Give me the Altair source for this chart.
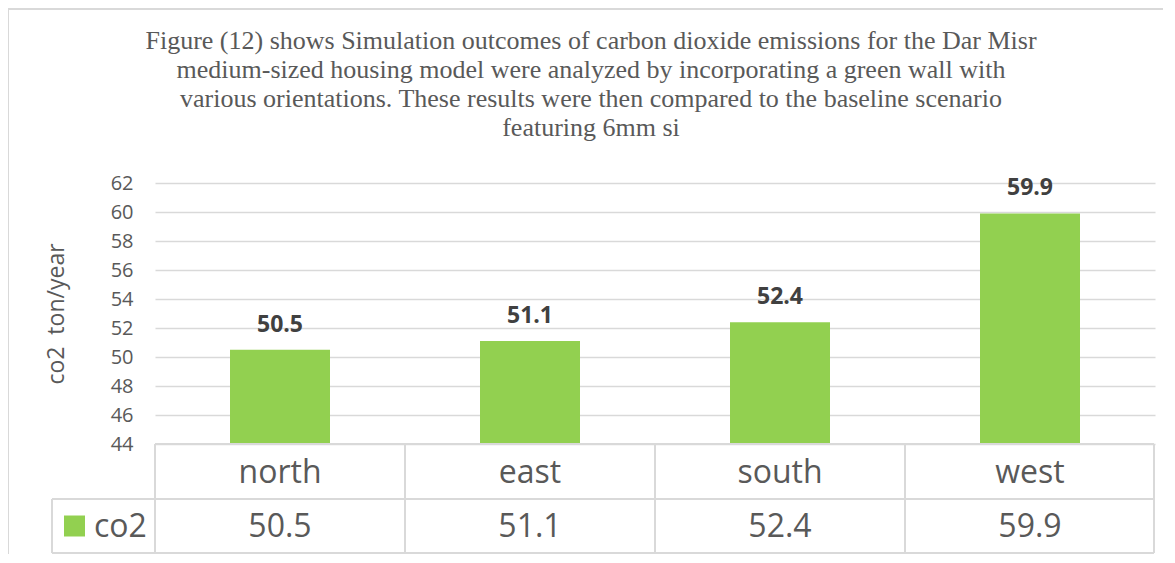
import altair as alt
import pandas as pd

# ---- data ----
categories = ["north", "east", "south", "west"]
co2_values = [50.5, 51.1, 52.4, 59.9]
value_labels = ["50.5", "51.1", "52.4", "59.9"]
series_name = ["co2"]
y_ticks = [44, 46, 48, 50, 52, 54, 56, 58, 60, 62]
title_lines = [
    "Figure (12) shows Simulation outcomes of carbon dioxide emissions for the Dar Misr",
    "medium-sized housing model were analyzed by incorporating a green wall with",
    "various orientations. These results were then compared to the baseline scenario",
    "featuring 6mm si",
]
y_title = "co2\u00a0 ton/year"

df = pd.DataFrame({"orientation": categories, "co2": co2_values, "label": value_labels})
legend_df = pd.DataFrame({"series": series_name})

W, H = 1000, 261
GREEN = "#92D050"
GRID = "#D9D9D9"
TXT = "#595959"
FONT = "Open Sans"

x_enc = alt.X("orientation:N", sort=categories, axis=None,
              scale=alt.Scale(paddingInner=0, paddingOuter=0))

y_enc = alt.Y(
    "co2:Q",
    scale=alt.Scale(domain=[44, 62], zero=False, nice=False),
    axis=alt.Axis(values=y_ticks, grid=True, gridColor=GRID, gridWidth=1.3,
                  domain=False, ticks=False, labelPadding=22, labelFontSize=20,
                  labelColor=TXT, labelFont=FONT, title=y_title, titleFontSize=23,
                  titleFont=FONT, titleFontWeight="normal", titleColor=TXT,
                  titlePadding=42),
)

base = alt.Chart(df)

frame = alt.Chart(legend_df).mark_rect(fill=None, stroke=GRID, strokeWidth=2).encode(
    x=alt.value(-147), y=alt.value(-174), x2=alt.value(1300), y2=alt.value(700))

bars = base.mark_bar(color=GREEN, size=100).encode(x=x_enc, y=y_enc, y2=alt.datum(44))

labels = base.mark_text(font=FONT, fontWeight="bold", fontSize=23, color="#404040",
                        baseline="alphabetic", dy=-18).encode(
    x=x_enc, y=y_enc, text="label:N")

cat_text = base.mark_text(font=FONT, fontSize=32, color=TXT, baseline="alphabetic").encode(
    x=x_enc, y=alt.value(300), text="orientation:N")
val_text = base.mark_text(font=FONT, fontSize=32, color=TXT, baseline="alphabetic").encode(
    x=x_enc, y=alt.value(354), text="label:N")

LW = 2
vlines = base.mark_rule(color=GRID, strokeWidth=LW).encode(
    x=alt.X("orientation:N", sort=categories, bandPosition=0, axis=None),
    y=alt.value(261), y2=alt.value(370))
right_line = alt.Chart(legend_df).mark_rule(color=GRID, strokeWidth=LW).encode(
    x=alt.value(999), y=alt.value(261), y2=alt.value(370))
left_line = alt.Chart(legend_df).mark_rule(color=GRID, strokeWidth=LW).encode(
    x=alt.value(-103), y=alt.value(316), y2=alt.value(370))
h_top = alt.Chart(legend_df).mark_rule(color=GRID, strokeWidth=LW).encode(
    x=alt.value(0), x2=alt.value(999), y=alt.value(261))
h_mid = alt.Chart(legend_df).mark_rule(color=GRID, strokeWidth=LW).encode(
    x=alt.value(-103), x2=alt.value(999), y=alt.value(316))
h_bot = alt.Chart(legend_df).mark_rule(color=GRID, strokeWidth=LW).encode(
    x=alt.value(-103), x2=alt.value(999), y=alt.value(370))

legend_sq = alt.Chart(legend_df).mark_square(color=GREEN, size=441, opacity=1, filled=True).encode(
    x=alt.value(-80.5), y=alt.value(343))
legend_txt = alt.Chart(legend_df).mark_text(font=FONT, fontSize=32, color=TXT, align="left",
                                            baseline="alphabetic").encode(
    x=alt.value(-61), y=alt.value(354), text="series:N")

chart = alt.layer(
    frame, bars, labels, vlines, right_line, left_line, h_top, h_mid, h_bot,
    cat_text, val_text, legend_sq, legend_txt
).properties(
    width=W, height=H,
    background="white",
    title=alt.TitleParams(title_lines, font="Liberation Serif", fontSize=26,
                          fontWeight="normal", color=TXT, anchor="middle",
                          dx=-64, offset=-133, lineHeight=29),
    autosize=alt.AutoSizeParams(type="none"),
    padding={"left": 147, "top": 175, "right": 8, "bottom": 110},
).configure_view(stroke=None)

chart.save("out.html", embed_options={"renderer": "svg", "actions": False})
